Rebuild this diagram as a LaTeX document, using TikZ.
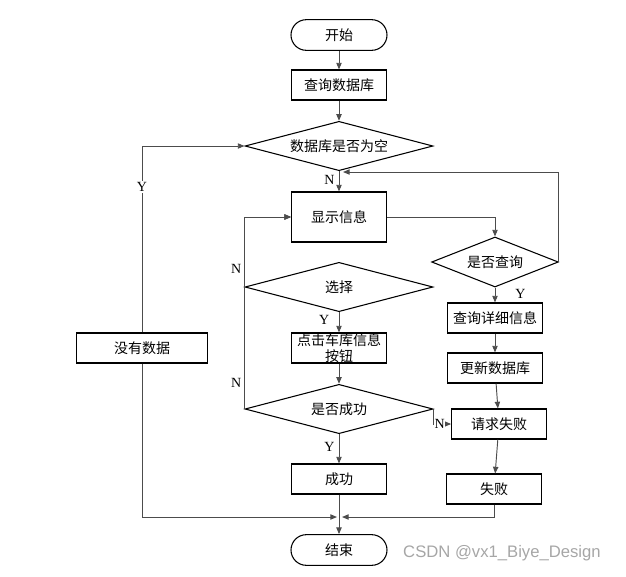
\documentclass[tikz,border=0pt]{standalone}
\usepackage{fontspec}
\setmainfont{Noto Sans CJK SC}
\newfontfamily\latinfont{Liberation Serif}
\newfontfamily\markfont{Liberation Sans}
\usetikzlibrary{shapes.geometric,arrows.meta}

\begin{document}
\begin{tikzpicture}[x=0.75pt,y=-0.75pt,>={Triangle[length=5pt,width=4pt]},font=\fontsize{10.5}{12}\selectfont]
    \tikzstyle{terminal}=[rectangle,rounded corners=11.5pt,draw=black,line width=0.8pt,minimum width=72pt,minimum height=23pt,inner sep=0pt]
    \tikzstyle{process}=[rectangle,draw=black,line width=0.8pt,minimum width=71pt,minimum height=22.5pt,inner sep=0pt,align=center]
    \tikzstyle{decision}=[diamond,aspect=3.8,draw=black,line width=0.8pt,minimum width=141pt,minimum height=37pt,inner sep=0pt]
    \tikzstyle{flow}=[draw=black!70,line width=0.7pt,->]
    \tikzstyle{yn}=[font=\latinfont\fontsize{10.5}{12}\selectfont,inner sep=1pt]
    \useasboundingbox (0,0) rectangle (626,576);

    \node[terminal] (start) at (339,35) {开始};
    \node[terminal] (end) at (339,550) {结束};

    \foreach \name/\x/\y/\txt in {query/339/85/查询数据库, click/339/348/{点击车库信息\\按钮}, ok/339/479/成功,
            detail/495/318/查询详细信息, update/495/368/更新数据库, fail1/499/424/请求失败, fail2/494/489/失败}
        \node[process] (\name) at (\x,\y) {\txt};
    \node[process,minimum height=37.5pt] (show) at (339,217) {显示信息};
    \node[process,minimum width=98pt] (nodata) at (142,348) {没有数据};

    \node[decision] (empty) at (339,146) {数据库是否为空};
    \node[decision] (select) at (339,287) {选择};
    \node[decision] (success) at (339,409) {是否成功};
    \node[decision,aspect=2.5,minimum width=95pt,minimum height=37.5pt] (ask) at (495,262) {是否查询};

    \coordinate (back) at (343,172);
    \coordinate (mergeL) at (337,517);
    \coordinate (mergeR) at (342,517);

    \foreach \from/\to in {start/query, query/empty, click/success, ok/end, detail/update, update/fail1, fail1/fail2}
        \draw[flow] (\from) -- (\to);

    \draw[flow] (empty) -- (show) node[yn,pos=0.45,left,xshift=-2pt] {N};
    \draw[flow] (nodata.north) |- (empty.west) node[yn,pos=0.39,fill=white] {Y};
    \draw[flow] (show.east) -| (ask.north);
    \draw[flow] (ask.east) |- (back);
    \draw[flow] (ask) -- (detail) node[yn,pos=0.45,right,xshift=14pt] {Y};
    \draw[flow] (select) -- (click) node[yn,pos=0.4,left,xshift=-6pt] {Y};
    \draw[flow] (select.west) |- (show.west) node[yn,pos=0.13,left,xshift=-1pt] {N};
    \draw[flow] (success.west) |- (show.west) node[yn,pos=0.067,left,xshift=-1pt] {N};
    \draw[flow] (success) -- (ok) node[yn,pos=0.45,left,xshift=-2pt] {Y};
    \draw[flow] (success.east) |- (fail1.west) node[yn,pos=0.5,right,fill=white,inner sep=0.5pt] {N};
    \draw[flow] (nodata.south) |- (mergeL);
    \draw[flow] (fail2.south) |- (mergeR);

    \node[font=\markfont\fontsize{12.5}{14}\selectfont,text=black!35] (mark) at (502,553) {CSDN @vx1\_Biye\_Design};
\end{tikzpicture}
\end{document}
